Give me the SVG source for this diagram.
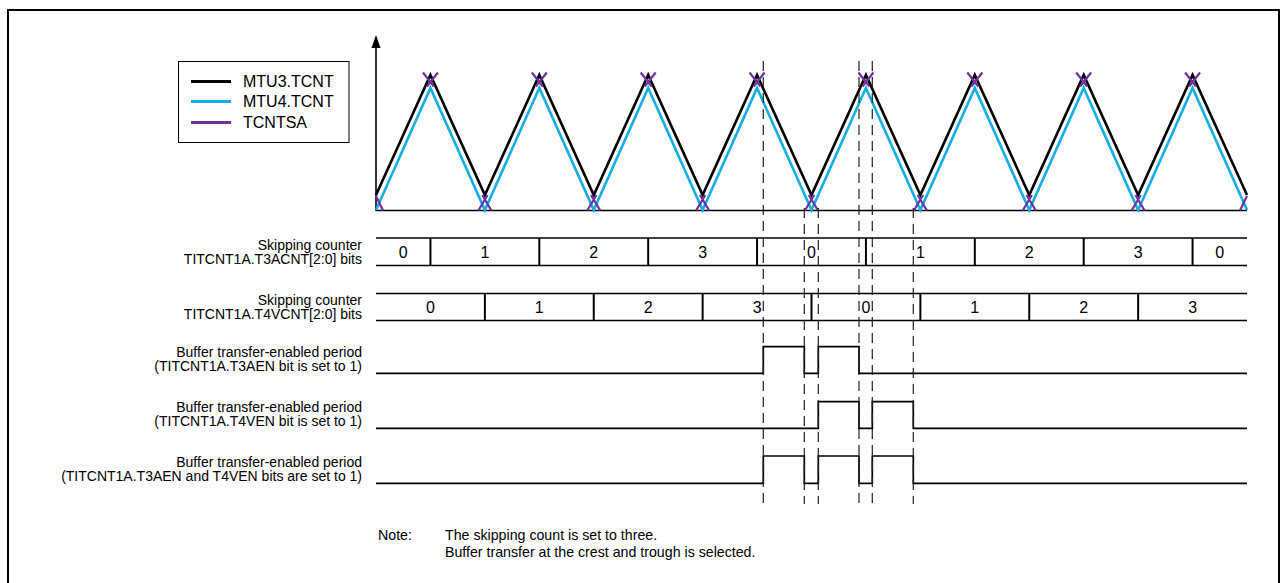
<svg xmlns="http://www.w3.org/2000/svg" width="1282" height="583" viewBox="0 0 1282 583">
<style>
  text { font-family: "Liberation Sans", Arial, sans-serif; fill: #000; }
  .lbl { font-size: 14px; text-anchor: end; }
  .num { font-size: 16px; text-anchor: middle; }
  .leg { font-size: 16px; }
  .note { font-size: 14.2px; }
  .row { fill: none; stroke: #000; stroke-width: 1.6; }
  .div { stroke: #000; stroke-width: 2; }
  .pulse { fill: none; stroke: #000; stroke-width: 1.7; }
  .dash { stroke: #222; stroke-width: 1.2; stroke-dasharray: 10 6; fill: none; }
  .blk { fill: none; stroke: #000; stroke-width: 2.6; stroke-linejoin: miter; }
  .cyn { fill: none; stroke: #14AEE6; stroke-width: 2.6; stroke-linejoin: miter; }
  .pur { fill: none; stroke: #7030A0; stroke-width: 2.2; }
</style>
<defs>
  <path id="pk" d="M-7.5,-2.5 L3.5,11.5 M7.5,-2.5 L-3.5,11.5"/>
  <path id="tr" d="M-6.5,15.5 L2.7,0 M6.5,15.5 L-2.7,0"/>
</defs>
<rect x="0" y="0" width="1282" height="583" fill="#fff"/>
<path id="frame" d="M8,583 V10 H1279 V583" fill="none" stroke="#000" stroke-width="2"/>

<g id="legend">
  <rect x="178.5" y="61.5" width="170.5" height="81" fill="#fff" stroke="#000" stroke-width="1"/>
  <line x1="191" y1="81.5" x2="231" y2="81.5" stroke="#000" stroke-width="3"/>
  <line x1="191" y1="101.5" x2="231" y2="101.5" stroke="#14AEE6" stroke-width="3"/>
  <line x1="191" y1="122.5" x2="231" y2="122.5" stroke="#7030A0" stroke-width="3"/>
  <text class="leg" x="243" y="87">MTU3.TCNT</text>
  <text class="leg" x="243" y="107">MTU4.TCNT</text>
  <text class="leg" x="243" y="127.5">TCNTSA</text>
</g>

<g id="axes">
  <line x1="376" y1="211" x2="376" y2="44" stroke="#000" stroke-width="1.6"/>
  <polygon points="376,35 371.5,48 380.5,48" fill="#000"/>
  <line x1="376" y1="210.5" x2="1247" y2="210.5" stroke="#000" stroke-width="1.6"/>
</g>

<g id="waveforms">
  <polyline class="cyn" points="376,210 430.44,88 484.88,210 539.31,88 593.75,210 648.19,88 702.63,210 757.06,88 811.5,210 865.94,88 920.38,210 974.81,88 1029.25,210 1083.69,88 1138.13,210 1192.56,88 1247,210"/>
  <polyline class="blk" points="376,195 430.44,75 484.88,195 539.31,75 593.75,195 648.19,75 702.63,195 757.06,75 811.5,195 865.94,75 920.38,195 974.81,75 1029.25,195 1083.69,75 1138.13,195 1192.56,75 1247,195"/>
  <g class="pur">
    <line x1="376" y1="196" x2="383" y2="210.5"/>
    <use href="#pk" x="430.44" y="75"/>
    <use href="#tr" x="484.88" y="195"/>
    <use href="#pk" x="539.31" y="75"/>
    <use href="#tr" x="593.75" y="195"/>
    <use href="#pk" x="648.19" y="75"/>
    <use href="#tr" x="702.63" y="195"/>
    <use href="#pk" x="757.06" y="75"/>
    <use href="#tr" x="811.5" y="195"/>
    <use href="#pk" x="865.94" y="75"/>
    <use href="#tr" x="920.38" y="195"/>
    <use href="#pk" x="974.81" y="75"/>
    <use href="#tr" x="1029.25" y="195"/>
    <use href="#pk" x="1083.69" y="75"/>
    <use href="#tr" x="1138.13" y="195"/>
    <use href="#pk" x="1192.56" y="75"/>
    <line x1="1240" y1="210.5" x2="1247" y2="196"/>
  </g>
</g>

<g id="counter-t3">
  <text class="lbl" x="362" y="250">Skipping counter</text>
  <text class="lbl" x="362" y="264">TITCNT1A.T3ACNT[2:0] bits</text>
  <line class="row" x1="376" y1="238" x2="1247" y2="238"/>
  <line class="row" x1="376" y1="265.5" x2="1247" y2="265.5"/>
  <g class="div">
    <line x1="430.44" y1="238" x2="430.44" y2="265.5"/>
    <line x1="539.31" y1="238" x2="539.31" y2="265.5"/>
    <line x1="648.19" y1="238" x2="648.19" y2="265.5"/>
    <line x1="757.06" y1="238" x2="757.06" y2="265.5"/>
    <line x1="865.94" y1="238" x2="865.94" y2="265.5"/>
    <line x1="974.81" y1="238" x2="974.81" y2="265.5"/>
    <line x1="1083.69" y1="238" x2="1083.69" y2="265.5"/>
    <line x1="1192.56" y1="238" x2="1192.56" y2="265.5"/>
  </g>
  <text class="num" x="403.2" y="258">0</text>
  <text class="num" x="484.9" y="258">1</text>
  <text class="num" x="593.8" y="258">2</text>
  <text class="num" x="702.6" y="258">3</text>
  <text class="num" x="811.5" y="258">0</text>
  <text class="num" x="920.4" y="258">1</text>
  <text class="num" x="1029.3" y="258">2</text>
  <text class="num" x="1138.1" y="258">3</text>
  <text class="num" x="1219.8" y="258">0</text>
</g>

<g id="counter-t4">
  <text class="lbl" x="362" y="305">Skipping counter</text>
  <text class="lbl" x="362" y="319">TITCNT1A.T4VCNT[2:0] bits</text>
  <line class="row" x1="376" y1="293.5" x2="1247" y2="293.5"/>
  <line class="row" x1="376" y1="320.5" x2="1247" y2="320.5"/>
  <g class="div">
    <line x1="484.88" y1="293.5" x2="484.88" y2="320.5"/>
    <line x1="593.75" y1="293.5" x2="593.75" y2="320.5"/>
    <line x1="702.63" y1="293.5" x2="702.63" y2="320.5"/>
    <line x1="811.5" y1="293.5" x2="811.5" y2="320.5"/>
    <line x1="920.38" y1="293.5" x2="920.38" y2="320.5"/>
    <line x1="1029.25" y1="293.5" x2="1029.25" y2="320.5"/>
    <line x1="1138.13" y1="293.5" x2="1138.13" y2="320.5"/>
  </g>
  <text class="num" x="430.4" y="313">0</text>
  <text class="num" x="539.3" y="313">1</text>
  <text class="num" x="648.2" y="313">2</text>
  <text class="num" x="757.1" y="313">3</text>
  <text class="num" x="866" y="313">0</text>
  <text class="num" x="974.8" y="313">1</text>
  <text class="num" x="1083.7" y="313">2</text>
  <text class="num" x="1192.6" y="313">3</text>
</g>

<g id="enable-t3a">
  <text class="lbl" x="362" y="357">Buffer transfer-enabled period</text>
  <text class="lbl" x="362" y="371">(TITCNT1A.T3AEN bit is set to 1)</text>
  <path class="pulse" d="M376,373.3 H763.3 V346.7 H804.3 V373.3 H818.3 V346.7 H859 V373.3 H1247"/>
</g>

<g id="enable-t4v">
  <text class="lbl" x="362" y="412">Buffer transfer-enabled period</text>
  <text class="lbl" x="362" y="426">(TITCNT1A.T4VEN bit is set to 1)</text>
  <path class="pulse" d="M376,428.3 H818.3 V401.7 H859 V428.3 H872.3 V401.7 H913.3 V428.3 H1247"/>
</g>

<g id="enable-both">
  <text class="lbl" x="362" y="467">Buffer transfer-enabled period</text>
  <text class="lbl" x="362" y="481">(TITCNT1A.T3AEN and T4VEN bits are set to 1)</text>
  <path class="pulse" d="M376,483.3 H763.3 V456 H804.3 V483.3 H818.3 V456 H859 V483.3 H872.3 V456 H913.3 V483.3 H1247"/>
</g>

<g id="connectors">
  <line class="dash" x1="763.3" y1="61" x2="763.3" y2="504"/>
  <line class="dash" x1="859" y1="61" x2="859" y2="504"/>
  <line class="dash" x1="872.3" y1="61" x2="872.3" y2="504"/>
  <line class="dash" x1="804.3" y1="208" x2="804.3" y2="504"/>
  <line class="dash" x1="818.3" y1="208" x2="818.3" y2="504"/>
  <line class="dash" x1="913.3" y1="208" x2="913.3" y2="504"/>
</g>

<g id="note">
  <text class="note" x="378" y="540">Note:</text>
  <text class="note" x="445" y="540">The skipping count is set to three.</text>
  <text class="note" x="445" y="557">Buffer transfer at the crest and trough is selected.</text>
</g>
</svg>
